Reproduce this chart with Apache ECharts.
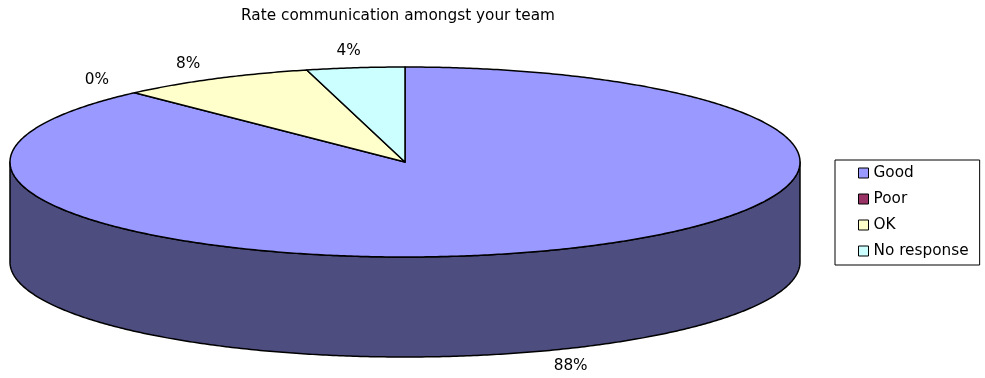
<!DOCTYPE html>
<html>
<head>
<meta charset="utf-8">
<script src="https://cdn.jsdelivr.net/npm/echarts@6/dist/echarts.min.js"></script>
<style>
  html, body { margin: 0; padding: 0; background: #ffffff; }
  #chart { width: 985px; height: 378px; }
</style>
</head>
<body>
<div id="chart"></div>
<script>
// Survey answers, share of respondents in percent
const categories = ['Good', 'Poor', 'OK', 'No response'];
const percentages = [88, 0, 8, 4];
const topColors = ['#9999FF', '#993366', '#FFFFCC', '#CCFFFF'];
const sideColors = ['#4D4D80', '#4D1A33', '#808066', '#668080'];
const titleText = 'Rate communication amongst your team';

const FONT = 'DejaVu Sans';
const FONT_SIZE = 15.3;

// Tilted-disc geometry (pixels)
const CX = 405, CY = 162, RX = 395, RY = 95, DEPTH = 100;
const LABEL_GAP_X = 55, LABEL_GAP_Y = 17;

const total = percentages.reduce((s, v) => s + v, 0);
// start angle of each slice, degrees clockwise from 12 o'clock
const startAngles = [];
let running = 0;
percentages.forEach(v => { startAngles.push(running / total * 360); running += v; });

function ellipsePoint(deg, dy) {
  const r = deg * Math.PI / 180;
  return [CX + RX * Math.sin(r), CY - RY * Math.cos(r) + (dy || 0)];
}
function arcPoints(a, b, dy) {
  const n = Math.max(2, Math.ceil(Math.abs(b - a) / 0.5));
  const pts = [];
  for (let i = 0; i <= n; i++) pts.push(ellipsePoint(a + (b - a) * i / n, dy));
  return pts;
}

function sliceRenderer(idx) {
  return function (params, api) {
    const a = startAngles[idx];
    const b = a + api.value(0) / total * 360;
    const children = [];
    // outer wall: only the front half (90..270 deg) faces the viewer
    const wa = Math.max(a, 90), wb = Math.min(b, 270);
    if (wb > wa) {
      children.push({
        type: 'polygon', z2: 1,
        shape: { points: arcPoints(wa, wb, 0).concat(arcPoints(wb, wa, DEPTH)) },
        style: { fill: sideColors[idx], stroke: '#000', lineWidth: 1.5, lineJoin: 'round' }
      });
    }
    // top face of the slice
    if (b > a) {
      children.push({
        type: 'polygon', z2: 5,
        shape: { points: [[CX, CY]].concat(arcPoints(a, b, 0)) },
        style: { fill: topColors[idx], stroke: '#000', lineWidth: 1.5, lineJoin: 'round' }
      });
    }
    // percentage label outside the rim
    const mid = (a + b) / 2 * Math.PI / 180;
    let lx = CX + (RX + LABEL_GAP_X) * Math.sin(mid);
    let ly = CY - (RY + LABEL_GAP_Y) * Math.cos(mid);
    if (Math.cos(mid) < 0) ly += DEPTH;
    children.push({
      type: 'text', z2: 10,
      style: {
        text: api.value(0) + '%', x: lx, y: ly,
        align: 'center', verticalAlign: 'middle',
        fontFamily: FONT, fontSize: FONT_SIZE, fill: '#000'
      }
    });
    return { type: 'group', children: children };
  };
}

const chart = echarts.init(document.getElementById('chart'), null, { renderer: 'canvas' });
chart.setOption({
  animation: false,
  backgroundColor: '#ffffff',
  title: {
    text: titleText,
    left: 398, top: 9, textAlign: 'center', padding: 0,
    textStyle: { fontFamily: FONT, fontSize: FONT_SIZE, fontWeight: 'normal', color: '#000' }
  },
  legend: {
    orient: 'vertical', left: 835, top: 160,
    padding: [5, 11, 6, 23],
    itemGap: 10, itemWidth: 10, itemHeight: 10, icon: 'rect',
    itemStyle: { borderColor: '#000', borderWidth: 1 },
    borderColor: '#000', borderWidth: 1,
    textStyle: { fontFamily: FONT, fontSize: FONT_SIZE, color: '#000', lineHeight: 16 },
    data: categories
  },
  series: categories.map((name, i) => ({
    type: 'custom',
    name: name,
    coordinateSystem: 'none',
    itemStyle: { color: topColors[i] },
    renderItem: sliceRenderer(i),
    data: [percentages[i]]
  }))
});
</script>
</body>
</html>
